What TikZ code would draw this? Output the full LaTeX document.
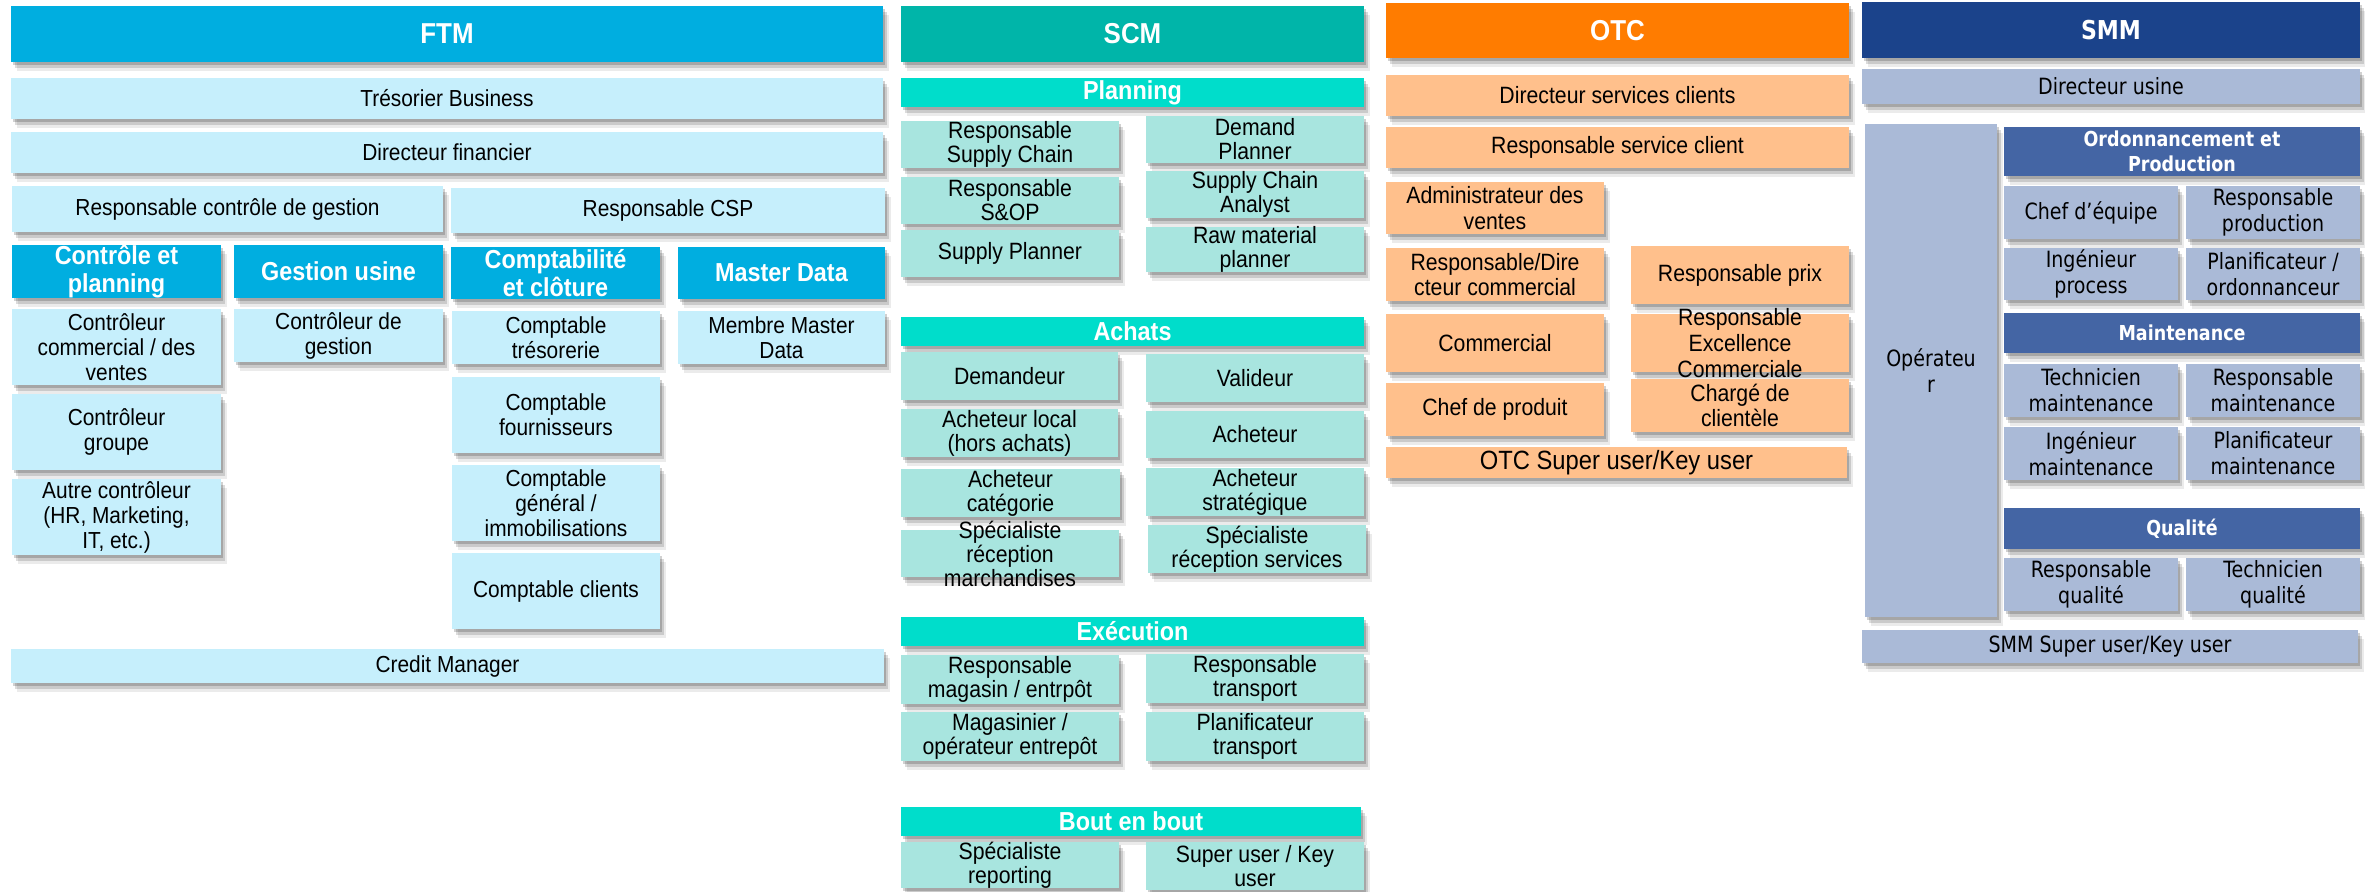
\documentclass[tikz,border=0pt]{standalone}
\usepackage{fontspec}
\setmainfont{Liberation Sans}[FakeStretch=0.9]
\newfontfamily\smmfont{DejaVu Sans}[FakeStretch=0.85]
\usetikzlibrary{shadows}
\definecolor{ftmdark}{HTML}{00AEE0}
\definecolor{ftmlight}{HTML}{C6EFFC}
\definecolor{scmdark}{HTML}{00B5A9}
\definecolor{scmmid}{HTML}{00DDCB}
\definecolor{scmlight}{HTML}{A8E5DF}
\definecolor{otcdark}{HTML}{FF7C00}
\definecolor{otclight}{HTML}{FFC08C}
\definecolor{smmdark}{HTML}{1B438B}
\definecolor{smmmid}{HTML}{4465A4}
\definecolor{smmlight}{HTML}{AABAD7}
\newcommand{\rolebox}[7]{%
  \path[#1 box] (#3,#4) rectangle (#5,#6);
  \node[#1 text] (#2) at ({(#3+#5)/2},{(#4+#6)/2}) {#7};}

\begin{document}
\begin{tikzpicture}[x=0.5pt,y=-0.5pt,
  boxshadow/.style={general shadow={fill=black,opacity=.08,shadow xshift=3pt,shadow yshift=-4.5pt},
                    general shadow={fill=black,opacity=.14,shadow xshift=2pt,shadow yshift=-3pt},
                    general shadow={fill=black,opacity=.18,shadow xshift=1pt,shadow yshift=-1.5pt}},
  roletext/.style={align=center,inner sep=0pt},
  ftm title box/.style={fill=ftmdark,boxshadow},
  ftm title text/.style={roletext,text=white,font=\fontsize{14.4}{16}\selectfont\bfseries},
  ftm head box/.style={fill=ftmdark,boxshadow},
  ftm head text/.style={roletext,text=white,font=\fontsize{13}{14}\selectfont\bfseries},
  ftm box/.style={fill=ftmlight,boxshadow},
  ftm text/.style={roletext,font=\fontsize{11.6}{12.5}\selectfont},
  scm title box/.style={fill=scmdark,boxshadow},
  scm title text/.style={roletext,text=white,font=\fontsize{14.4}{16}\selectfont\bfseries},
  scm head box/.style={fill=scmmid,boxshadow},
  scm head text/.style={roletext,text=white,font=\fontsize{13}{14}\selectfont\bfseries},
  scm box/.style={fill=scmlight,boxshadow},
  scm text/.style={roletext,font=\fontsize{11.8}{12}\selectfont},
  otc title box/.style={fill=otcdark,boxshadow},
  otc title text/.style={roletext,text=white,font=\fontsize{14.4}{16}\selectfont\bfseries},
  otc box/.style={fill=otclight,boxshadow},
  otc text/.style={roletext,font=\fontsize{11.8}{12.8}\selectfont},
  smm title box/.style={fill=smmdark,boxshadow},
  smm title text/.style={roletext,text=white,font=\smmfont\fontsize{13}{15}\selectfont\bfseries},
  smm head box/.style={fill=smmmid,boxshadow},
  smm head text/.style={roletext,text=white,font=\smmfont\fontsize{10.3}{12.5}\selectfont\bfseries},
  smm box/.style={fill=smmlight,boxshadow},
  smm text/.style={roletext,font=\smmfont\fontsize{11.2}{13}\selectfont}]
  \useasboundingbox (0,0) rectangle (2365,891);

  \rolebox{ftm title}{ftm}{11}{6}{883}{62}{FTM}
  \rolebox{ftm}{tresorier}{11}{78}{883}{119}{Trésorier Business}
  \rolebox{ftm}{dirfin}{11}{132}{883}{173}{Directeur financier}
  \rolebox{ftm}{respcg}{12}{186}{443}{232}{Responsable contrôle de gestion}
  \rolebox{ftm}{respcsp}{451}{188}{885}{233}{Responsable CSP}
  \rolebox{ftm head}{ctrlplan}{12}{245}{221}{298}{Contrôle et\\planning}
  \rolebox{ftm head}{gestusine}{234}{245}{443}{298}{Gestion usine}
  \rolebox{ftm head}{compta}{451}{247}{660}{299}{Comptabilité\\et clôture}
  \rolebox{ftm head}{masterdata}{678}{247}{885}{299}{Master Data}
  \rolebox{ftm}{ctrlcom}{12}{309}{221}{385}{Contrôleur\\commercial / des\\ventes}
  \rolebox{ftm}{ctrlgrp}{12}{394}{221}{470}{Contrôleur\\groupe}
  \rolebox{ftm}{ctrlautre}{12}{479}{221}{555}{Autre contrôleur\\(HR, Marketing,\\IT, etc.)}
  \rolebox{ftm}{ctrlgest}{234}{309}{443}{362}{Contrôleur de\\gestion}
  \rolebox{ftm}{comptreso}{452}{311}{660}{364}{Comptable\\trésorerie}
  \rolebox{ftm}{comptfourn}{452}{377}{660}{453}{Comptable\\fournisseurs}
  \rolebox{ftm}{comptgen}{452}{465}{660}{541}{Comptable\\général /\\immobilisations}
  \rolebox{ftm}{comptcli}{452}{553}{660}{629}{Comptable clients}
  \rolebox{ftm}{membremd}{678}{311}{885}{364}{Membre Master\\Data}
  \rolebox{ftm}{credit}{11}{649}{884}{683}{Credit Manager}

  \rolebox{scm title}{scm}{901}{6}{1364}{62}{SCM}
  \rolebox{scm head}{planning}{901}{78}{1364}{107}{Planning}
  \rolebox{scm}{respsc}{901}{121}{1119}{168}{Responsable\\Supply Chain}
  \rolebox{scm}{respsop}{901}{177}{1119}{224}{Responsable\\S\&OP}
  \rolebox{scm}{supplan}{901}{230}{1119}{277}{Supply Planner}
  \rolebox{scm}{demplan}{1146}{116}{1364}{163}{Demand\\Planner}
  \rolebox{scm}{scanalyst}{1146}{171}{1364}{218}{Supply Chain\\Analyst}
  \rolebox{scm}{rawmat}{1146}{227}{1364}{272}{Raw material\\planner}
  \rolebox{scm head}{achats}{901}{317}{1364}{346}{Achats}
  \rolebox{scm}{demandeur}{901}{352}{1118}{400}{Demandeur}
  \rolebox{scm}{achlocal}{901}{409}{1118}{457}{Acheteur local\\(hors achats)}
  \rolebox{scm}{achcat}{901}{469}{1120}{517}{Acheteur\\catégorie}
  \rolebox{scm}{specmarch}{901}{530}{1119}{577}{Spécialiste\\réception\\marchandises}
  \rolebox{scm}{valideur}{1146}{354}{1364}{402}{Valideur}
  \rolebox{scm}{acheteur}{1146}{411}{1364}{458}{Acheteur}
  \rolebox{scm}{achstrat}{1146}{468}{1364}{516}{Acheteur\\stratégique}
  \rolebox{scm}{specserv}{1148}{525}{1366}{573}{Spécialiste\\réception services}
  \rolebox{scm head}{execution}{901}{617}{1364}{646}{Exécution}
  \rolebox{scm}{respmag}{901}{655}{1119}{704}{Responsable\\magasin / entrpôt}
  \rolebox{scm}{magasinier}{901}{712}{1119}{761}{Magasinier /\\opérateur entrepôt}
  \rolebox{scm}{resptrans}{1146}{654}{1364}{703}{Responsable\\transport}
  \rolebox{scm}{plantrans}{1146}{712}{1364}{761}{Planificateur\\transport}
  \rolebox{scm head}{boutenbout}{901}{807}{1361}{836}{Bout en bout}
  \rolebox{scm}{specrep}{901}{842}{1119}{888}{Spécialiste\\reporting}
  \rolebox{scm}{superkey}{1146}{842}{1364}{890}{Super user / Key\\user}

  \rolebox{otc title}{otc}{1386}{3}{1849}{58}{OTC}
  \rolebox{otc}{dirsc}{1386}{75}{1849}{116}{Directeur services clients}
  \rolebox{otc}{respsc2}{1386}{127}{1849}{168}{Responsable service client}
  \rolebox{otc}{admventes}{1386}{182}{1604}{234}{Administrateur des\\ventes}
  \rolebox{otc}{dircom}{1386}{248}{1604}{301}{Responsable/Dire\\cteur commercial}
  \rolebox{otc}{commercial}{1386}{314}{1604}{372}{Commercial}
  \rolebox{otc}{chefprod}{1386}{383}{1604}{436}{Chef de produit}
  \rolebox{otc}{respprix}{1631}{246}{1849}{304}{Responsable prix}
  \rolebox{otc}{respexc}{1631}{314}{1849}{372}{Responsable\\Excellence\\Commerciale}
  \rolebox{otc}{charge}{1631}{379}{1849}{432}{Chargé de\\clientèle}
  \rolebox{otc}{otcsuper}{1386}{447}{1847}{478}{\fontsize{13.2}{14}\selectfont OTC Super user/Key user}

  \rolebox{smm title}{smm}{1862}{2}{2360}{58}{SMM}
  \rolebox{smm}{dirusine}{1862}{69}{2360}{104}{Directeur usine}
  \rolebox{smm}{operateur}{1865}{124}{1997}{617}{Opérateu\\r}
  \rolebox{smm head}{ordo}{2004}{127}{2360}{176}{Ordonnancement et\\Production}
  \rolebox{smm}{chefeq}{2004}{186}{2178}{239}{Chef d’équipe}
  \rolebox{smm}{respprod}{2186}{186}{2360}{239}{Responsable\\production}
  \rolebox{smm}{ingproc}{2004}{248}{2178}{300}{Ingénieur\\process}
  \rolebox{smm}{planord}{2186}{248}{2360}{300}{Planificateur /\\ordonnanceur}
  \rolebox{smm head}{maint}{2004}{313}{2360}{353}{Maintenance}
  \rolebox{smm}{techmaint}{2004}{364}{2178}{417}{Technicien\\maintenance}
  \rolebox{smm}{respmaint}{2186}{364}{2360}{417}{Responsable\\maintenance}
  \rolebox{smm}{ingmaint}{2004}{427}{2178}{480}{Ingénieur\\maintenance}
  \rolebox{smm}{planmaint}{2186}{427}{2360}{480}{Planificateur\\maintenance}
  \rolebox{smm head}{qualite}{2004}{508}{2360}{549}{Qualité}
  \rolebox{smm}{respqual}{2004}{558}{2178}{611}{Responsable\\qualité}
  \rolebox{smm}{techqual}{2186}{558}{2360}{611}{Technicien\\qualité}
  \rolebox{smm}{smmsuper}{1862}{630}{2358}{663}{SMM Super user/Key user}
\end{tikzpicture}
\end{document}
